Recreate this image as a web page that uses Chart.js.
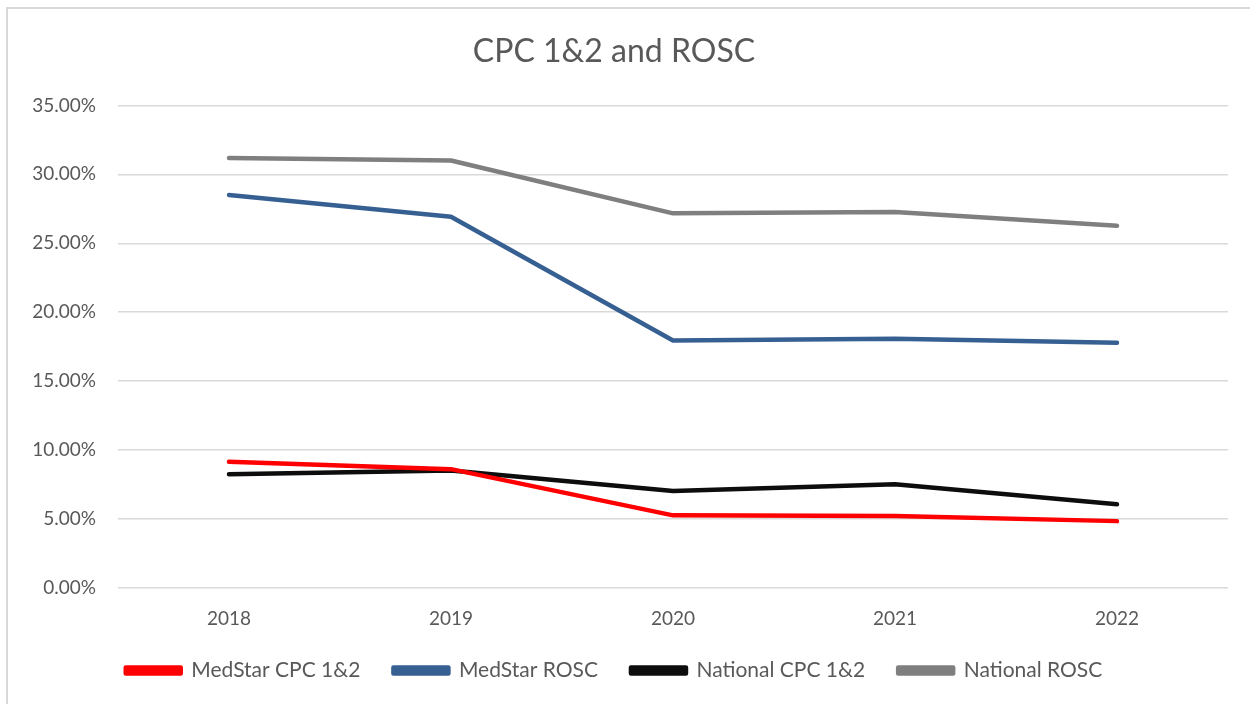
<!DOCTYPE html>
<html>
<head>
<meta charset="utf-8">
<script src="https://cdn.jsdelivr.net/npm/chart.js@4"></script>
<style>
  body { margin: 0; background: #fff; overflow: hidden; }
  #wrap { position: relative; width: 1250px; height: 704px; }
  #frame { position: absolute; left: 6px; top: 7px; width: 1300px; height: 800px;
           border: 2px solid #d9d9d9; pointer-events: none; }
</style>
</head>
<body>
<div id="wrap">
  <canvas id="myChart" width="1250" height="704"></canvas>
  <div id="frame"></div>
</div>
<script>
const years = ['2018', '2019', '2020', '2021', '2022'];
const medstarCpc = [0.0915, 0.0862, 0.0527, 0.0522, 0.0485];
const medstarRosc = [0.2850, 0.2693, 0.1795, 0.1808, 0.1779];
const nationalCpc = [0.0825, 0.0852, 0.0704, 0.0753, 0.0607];
const nationalRosc = [0.3118, 0.3100, 0.2717, 0.2727, 0.2627];

const txt = '#595959';
const font = 'Lato, "Open Sans", sans-serif';

function series(label, data, color) {
  return {
    label: label,
    data: data,
    borderColor: color,
    backgroundColor: color,
    borderWidth: 4.5,
    pointRadius: 0,
    tension: 0,
    borderCapStyle: 'round',
    borderJoinStyle: 'round'
  };
}

const ctx = document.getElementById('myChart');

new Chart(ctx, {
  type: 'line',
  data: {
    labels: years,
    datasets: [
      series('MedStar CPC 1&2', medstarCpc, '#ff0000'),
      series('MedStar ROSC', medstarRosc, '#376092'),
      series('National CPC 1&2', nationalCpc, '#0d0d0d'),
      series('National ROSC', nationalRosc, '#7f7f7f')
    ]
  },
  options: {
    responsive: false,
    animation: false,
    layout: { padding: { top: 20, right: 22, bottom: 13, left: 0 } },
    plugins: {
      title: {
        display: true,
        text: 'CPC 1&2 and ROSC',
        color: txt,
        font: { family: font, size: 32, weight: 'normal' },
        padding: { top: 12, bottom: 35 }
      },
      legend: {
        position: 'bottom',
        labels: {
          color: txt,
          font: { family: font, size: 21 },
          boxWidth: 55,
          boxHeight: 6,
          padding: 33
        }
      },
      tooltip: { enabled: false }
    },
    scales: {
      x: {
        offset: true,
        grid: { display: false },
        border: { display: false },
        afterFit: function (scale) { scale.height = 39; },
        ticks: { color: txt, font: { family: font, size: 19 }, padding: 11 }
      },
      y: {
        min: 0,
        max: 0.35,
        grid: { color: '#d9d9d9', lineWidth: 1.5, drawTicks: false },
        border: { display: false },
        afterFit: function (scale) { scale.width = 118; },
        ticks: {
          stepSize: 0.05,
          color: txt,
          padding: 22,
          font: { family: font, size: 19 },
          callback: function (v) { return (v * 100).toFixed(2) + '%'; }
        }
      }
    }
  }
});
</script>
</body>
</html>
